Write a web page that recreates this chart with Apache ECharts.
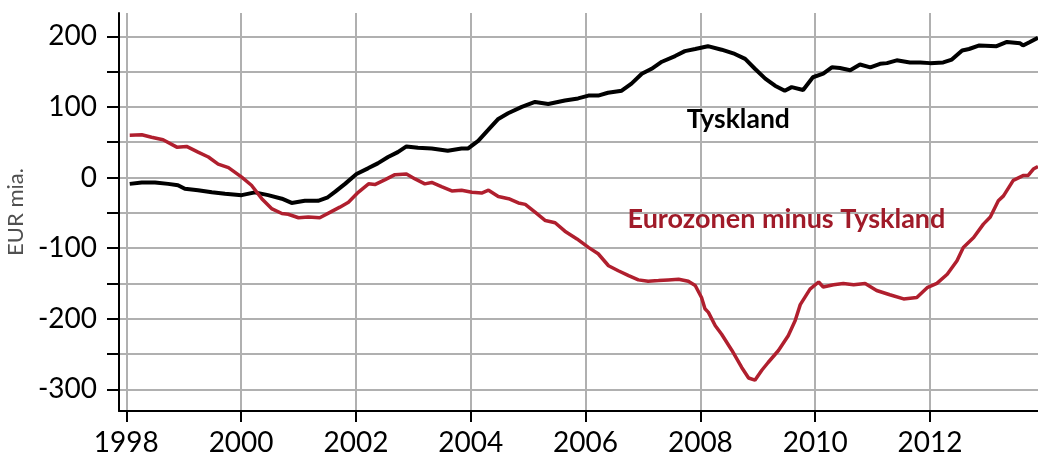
<!DOCTYPE html>
<html>
<head>
<meta charset="utf-8">
<title>Tyskland og Eurozonen minus Tyskland</title>
<script src="https://cdn.jsdelivr.net/npm/echarts@6/dist/echarts.min.js"></script>
<style>
  html, body { margin: 0; padding: 0; background: #fff; }
  #chart { width: 1038px; height: 460px; }
</style>
</head>
<body>
<div id="chart"></div>
<script>
// Tyskland (sort linje), EUR mia.
const tyskYears = [1998.06, 1998.27, 1998.50, 1998.73, 1998.90, 1999.02, 1999.25, 1999.49, 1999.72, 2000.01,
  2000.24, 2000.47, 2000.71, 2000.88, 2001.11, 2001.34, 2001.51, 2001.64, 2001.81, 2002.01,
  2002.21, 2002.38, 2002.56, 2002.73, 2002.88, 2003.08, 2003.32, 2003.60, 2003.84, 2003.95,
  2004.13, 2004.30, 2004.48, 2004.65, 2004.89, 2005.12, 2005.35, 2005.64, 2005.87, 2006.05,
  2006.22, 2006.39, 2006.63, 2006.80, 2006.98, 2007.15, 2007.33, 2007.56, 2007.73, 2007.91,
  2008.13, 2008.37, 2008.60, 2008.78, 2008.95, 2009.13, 2009.30, 2009.47, 2009.59, 2009.79,
  2009.96, 2010.14, 2010.29, 2010.43, 2010.61, 2010.78, 2010.96, 2011.13, 2011.25, 2011.42,
  2011.65, 2011.83, 2012.00, 2012.23, 2012.38, 2012.56, 2012.68, 2012.86, 2013.16, 2013.34,
  2013.57, 2013.62, 2013.74, 2013.88];
const tyskValues = [-9, -7, -7, -9, -11, -16, -18, -21, -23, -25,
  -21, -25, -30, -36, -33, -33, -28, -20, -9, 5,
  13, 20, 29, 36, 44, 42, 41, 38, 41, 41,
  52, 67, 83, 91, 100, 107, 104, 109, 112, 116,
  116, 120, 123, 133, 147, 154, 164, 172, 179, 182,
  186, 181, 175, 168, 154, 140, 130, 123, 128, 124,
  142, 147, 156, 155, 152, 160, 156, 161, 162, 166,
  163, 163, 162, 163, 167, 180, 182, 187, 186, 192,
  190, 187, 192, 198];

// Eurozonen minus Tyskland (rød linje), EUR mia.
const euroYears = [1998.06, 1998.27, 1998.44, 1998.64, 1998.88, 1999.05, 1999.25, 1999.43, 1999.60, 1999.78,
  2000.01, 2000.18, 2000.36, 2000.53, 2000.71, 2000.82, 2001.00, 2001.17, 2001.37, 2001.58,
  2001.72, 2001.87, 2002.04, 2002.22, 2002.33, 2002.51, 2002.68, 2002.88, 2003.03, 2003.20,
  2003.32, 2003.49, 2003.67, 2003.84, 2004.02, 2004.19, 2004.31, 2004.48, 2004.66, 2004.83,
  2004.95, 2005.12, 2005.30, 2005.47, 2005.64, 2005.85, 2006.05, 2006.22, 2006.40, 2006.57,
  2006.75, 2006.92, 2007.09, 2007.27, 2007.44, 2007.62, 2007.79, 2007.91, 2008.02, 2008.08,
  2008.14, 2008.26, 2008.37, 2008.55, 2008.72, 2008.84, 2008.95, 2009.07, 2009.18, 2009.36,
  2009.53, 2009.65, 2009.74, 2009.91, 2010.06, 2010.14, 2010.32, 2010.49, 2010.67, 2010.87,
  2011.07, 2011.30, 2011.54, 2011.77, 2011.95, 2012.12, 2012.30, 2012.47, 2012.58, 2012.76,
  2012.93, 2013.05, 2013.19, 2013.28, 2013.45, 2013.63, 2013.71, 2013.80, 2013.88];
const euroValues = [60, 60.5, 57, 53.5, 43, 44, 36, 29, 19, 14,
  0.5, -11, -30, -44, -51, -52, -57, -56, -57, -48,
  -42, -35, -21, -9, -10, -3, 4, 5, -2, -9,
  -7, -13, -19, -18, -21, -22, -18, -27, -30, -36,
  -38, -49, -61, -64, -76, -87, -99, -108, -125, -132,
  -139, -145, -147, -146, -145, -144, -147, -153, -170, -186,
  -191, -210, -222, -245, -269, -284, -287, -273, -262, -245,
  -224, -203, -180, -158, -148, -155, -152, -150, -152, -150,
  -160, -166, -172, -170, -156, -150, -137, -118, -99, -85,
  -66, -56, -33, -26, -4, 3, 3, 12, 15.6];

const yearTicks = [1998, 2000, 2002, 2004, 2006, 2008, 2010, 2012];
const yLabelValues = [-300, -200, -100, 0, 100, 200];
const yTickValues = [-300, -250, -200, -150, -100, -50, 0, 50, 100, 150, 200];

const seriesNames = ['Tyskland', 'Eurozonen minus Tyskland'];

const chartInstance = echarts.init(document.getElementById('chart'));

const font = 'Lato, "Open Sans", sans-serif';
const red = '#b01f2e';

const options = {
  animation: false,
  grid: { left: 119, right: 0, top: 13, bottom: 49, containLabel: false, outerBoundsMode: 'none' },
  xAxis: {
    type: 'value',
    min: 1997.873,
    max: 2013.881,
    axisLine: { show: true, onZero: false, lineStyle: { color: '#000', width: 2 } },
    axisTick: { show: true, length: 11, customValues: yearTicks, lineStyle: { color: '#000', width: 2 } },
    axisLabel: {
      customValues: yearTicks,
      margin: 18,
      color: '#000',
      fontFamily: font,
      fontSize: 28,
      formatter: (v) => String(Math.round(v)),
    },
    splitLine: { show: true, lineStyle: { color: '#b0b0b0', width: 2 } },
  },
  yAxis: {
    type: 'value',
    min: -330.7,
    max: 233,
    name: 'EUR mia.',
    nameLocation: 'middle',
    nameGap: 91,
    nameRotate: 90,
    nameTextStyle: { color: '#505050', fontFamily: font, fontSize: 22 },
    axisLine: { show: true, onZero: false, lineStyle: { color: '#000', width: 2 } },
    axisTick: { show: true, length: 12, customValues: yTickValues, lineStyle: { color: '#000', width: 2 } },
    axisLabel: {
      customValues: yLabelValues,
      margin: 22,
      color: '#000',
      fontFamily: font,
      fontSize: 28,
    },
    splitLine: { show: true, lineStyle: { color: '#b0b0b0', width: 2 } },
  },
  series: [
    {
      name: seriesNames[0],
      type: 'line',
      showSymbol: false,
      data: tyskYears.map((t, i) => [t, tyskValues[i]]),
      lineStyle: { color: '#000', width: 4 },
      itemStyle: { color: '#000' },
      markPoint: {
        symbol: 'circle',
        symbolSize: 0,
        silent: true,
        label: { show: true, position: 'inside', color: '#000', fontFamily: font, fontWeight: 'bold', fontSize: 26.5, formatter: seriesNames[0] },
        data: [{ coord: [2008.66, 82] }],
      },
    },
    {
      name: seriesNames[1],
      type: 'line',
      showSymbol: false,
      data: euroYears.map((t, i) => [t, euroValues[i]]),
      lineStyle: { color: red, width: 3.5 },
      itemStyle: { color: red },
      markPoint: {
        symbol: 'circle',
        symbolSize: 0,
        silent: true,
        label: { show: true, position: 'inside', color: '#a01b29', fontFamily: font, fontWeight: 'bold', fontSize: 27, formatter: seriesNames[1] },
        data: [{ coord: [2009.50, -59.5] }],
      },
    },
  ],
};

chartInstance.setOption(options);
window.addEventListener('resize', chartInstance.resize);
</script>
</body>
</html>
